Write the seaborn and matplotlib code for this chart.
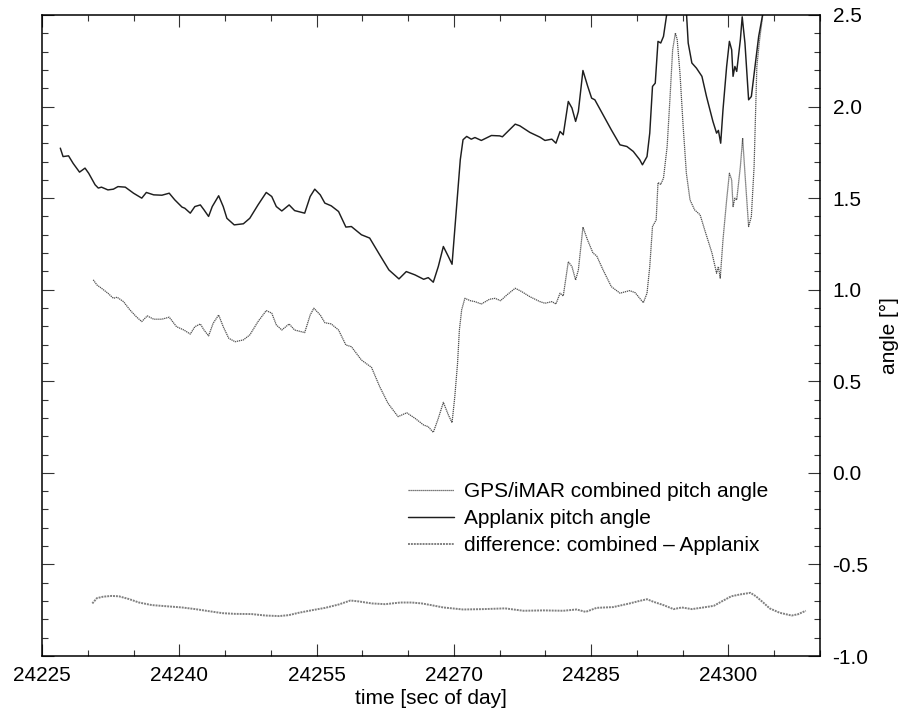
import numpy as np
import pandas as pd
import matplotlib
matplotlib.use("Agg")
import matplotlib.pyplot as plt
from matplotlib.ticker import MultipleLocator, FormatStrFormatter
import seaborn as sns

# ---------------- data ----------------
app_time = [24227.0, 24227.3, 24227.9, 24228.4, 24229.1, 24229.7, 24230.1, 24230.8, 24231.15, 24231.5,
            24232.2, 24232.8, 24233.3, 24234.1, 24235.0, 24235.9, 24236.4, 24237.2, 24238.1, 24238.9,
            24239.5, 24240.3, 24240.6, 24241.2, 24241.7, 24242.3, 24242.7, 24243.2, 24243.6, 24244.3,
            24244.8, 24245.2, 24246.0, 24247.0, 24247.7, 24248.6, 24249.5, 24250.1, 24250.6, 24251.2,
            24252.0, 24252.6, 24253.7, 24254.3, 24254.8, 24255.4, 24255.9, 24256.6, 24257.4, 24258.2,
            24258.8, 24259.9, 24260.8, 24261.9, 24262.9, 24264.0, 24264.8, 24265.75, 24266.7, 24267.2,
            24267.75, 24268.3, 24268.85, 24269.4, 24269.8, 24270.1, 24270.7, 24271.0, 24271.4, 24271.9,
            24272.3, 24273.0, 24274.1, 24275.0, 24275.3, 24276.7, 24277.2, 24278.3, 24279.4, 24279.95,
            24280.7, 24281.15, 24281.6, 24281.95, 24282.5, 24282.9, 24283.3, 24283.6, 24284.1, 24284.6,
            24285.05, 24285.4, 24286.3, 24287.2, 24288.15, 24288.9, 24289.6, 24290.3, 24290.6, 24291.1,
            24291.4, 24291.7, 24292.0, 24292.3, 24292.6, 24292.9, 24293.3, 24294.2, 24295.4, 24295.6,
            24296.0, 24296.5, 24297.1, 24297.6, 24298.3, 24298.7, 24298.9, 24299.15, 24299.4, 24299.8,
            24300.1, 24300.35, 24300.5, 24300.7, 24300.9, 24301.3, 24301.5, 24301.8, 24302.2, 24302.5,
            24302.9, 24303.3, 24303.8, 24305.0, 24308.5]
app_pitch = [1.773, 1.727, 1.731, 1.690, 1.642, 1.664, 1.636, 1.573, 1.555, 1.560,
             1.545, 1.549, 1.563, 1.560, 1.527, 1.500, 1.531, 1.518, 1.516, 1.527,
             1.491, 1.451, 1.445, 1.418, 1.454, 1.463, 1.436, 1.400, 1.454, 1.513,
             1.454, 1.390, 1.354, 1.360, 1.390, 1.463, 1.531, 1.509, 1.454, 1.430,
             1.463, 1.432, 1.418, 1.509, 1.549, 1.518, 1.473, 1.458, 1.427, 1.342,
             1.345, 1.300, 1.282, 1.190, 1.108, 1.059, 1.099, 1.081, 1.057, 1.066,
             1.041, 1.127, 1.236, 1.181, 1.139, 1.327, 1.710, 1.819, 1.837, 1.822,
             1.831, 1.815, 1.842, 1.840, 1.835, 1.904, 1.895, 1.859, 1.833, 1.815,
             1.822, 1.800, 1.864, 1.846, 2.028, 1.992, 1.919, 1.973, 2.197, 2.114,
             2.046, 2.037, 1.955, 1.873, 1.791, 1.782, 1.755, 1.710, 1.682, 1.727,
             1.855, 2.110, 2.128, 2.356, 2.347, 2.383, 2.520, 3.150, 2.520, 2.347,
             2.238, 2.210, 2.165, 2.055, 1.919, 1.855, 1.870, 1.800, 1.982, 2.219,
             2.356, 2.310, 2.165, 2.219, 2.192, 2.365, 2.490, 2.347, 2.037, 2.055,
             2.219, 2.383, 2.520, 2.900, 3.400]

comb_time = [24230.6, 24231.0, 24231.5, 24232.2, 24232.8, 24233.2, 24233.9, 24234.6, 24235.35, 24235.9,
             24236.5, 24237.2, 24238.1, 24238.9, 24239.7, 24240.5, 24241.2, 24241.7, 24242.3, 24242.7,
             24243.2, 24243.7, 24244.3, 24244.8, 24245.4, 24246.1, 24247.0, 24247.7, 24248.6, 24249.5,
             24250.1, 24250.6, 24251.2, 24252.0, 24252.6, 24253.7, 24254.3, 24254.7, 24255.4, 24255.9,
             24256.6, 24257.4, 24258.2, 24258.8, 24259.9, 24261.0, 24261.9, 24262.8, 24263.9, 24264.85,
             24265.75, 24266.7, 24267.2, 24267.75, 24268.3, 24268.85, 24269.4, 24269.8, 24270.1, 24270.4,
             24270.6, 24270.85, 24271.2, 24271.8, 24272.3, 24273.0, 24273.9, 24274.5, 24275.1, 24275.8,
             24276.7, 24277.4, 24278.3, 24279.4, 24279.95, 24280.7, 24281.15, 24281.6, 24281.95, 24282.5,
             24282.9, 24283.3, 24283.6, 24284.1, 24284.6, 24285.2, 24285.6, 24286.3, 24287.2, 24288.15,
             24289.2, 24289.8, 24290.3, 24290.7, 24291.1, 24291.4, 24291.7, 24292.1, 24292.3, 24292.6,
             24292.9, 24293.3, 24293.6, 24293.9, 24294.2, 24294.4, 24294.7, 24295.05, 24295.4, 24295.8,
             24296.3, 24296.9, 24297.4, 24298.2, 24298.7, 24298.9, 24299.1, 24299.4, 24299.8, 24300.1,
             24300.35, 24300.5, 24300.7, 24300.9, 24301.3, 24301.55, 24301.8, 24302.2, 24302.5, 24302.8,
             24303.1, 24303.4, 24303.8, 24308.5]
comb_pitch = [1.054, 1.026, 1.008, 0.981, 0.953, 0.959, 0.935, 0.890, 0.850, 0.826,
              0.857, 0.839, 0.839, 0.850, 0.798, 0.780, 0.758, 0.798, 0.813, 0.780,
              0.748, 0.817, 0.862, 0.798, 0.735, 0.716, 0.726, 0.753, 0.826, 0.886,
              0.872, 0.808, 0.780, 0.813, 0.780, 0.766, 0.862, 0.899, 0.862, 0.820,
              0.813, 0.780, 0.698, 0.689, 0.616, 0.576, 0.470, 0.380, 0.307, 0.328,
              0.298, 0.261, 0.252, 0.221, 0.298, 0.385, 0.316, 0.274, 0.416, 0.598,
              0.780, 0.890, 0.953, 0.940, 0.935, 0.922, 0.948, 0.953, 0.940, 0.972,
              1.008, 0.990, 0.962, 0.935, 0.926, 0.935, 0.922, 0.981, 0.966, 1.153,
              1.126, 1.053, 1.108, 1.342, 1.272, 1.200, 1.185, 1.108, 1.017, 0.981,
              0.995, 0.984, 0.953, 0.929, 0.981, 1.126, 1.345, 1.381, 1.585, 1.575,
              1.609, 1.782, 2.037, 2.310, 2.402, 2.365, 2.183, 1.891, 1.636, 1.490,
              1.436, 1.409, 1.327, 1.200, 1.090, 1.126, 1.063, 1.272, 1.490, 1.636,
              1.600, 1.454, 1.500, 1.490, 1.673, 1.828, 1.636, 1.345, 1.400, 1.673,
              2.219, 2.365, 2.520, 3.000]

diff_time = [24230.5, 24231.0, 24231.7, 24232.6, 24233.4, 24234.5, 24235.6, 24237.0, 24238.5, 24240.3,
             24241.75, 24243.2, 24244.7, 24246.1, 24247.9, 24249.4, 24250.9, 24251.95, 24253.05, 24254.5,
             24255.95, 24257.4, 24258.7, 24259.6, 24261.05, 24262.5, 24264.15, 24265.4, 24266.5, 24267.5,
             24268.85, 24271.0, 24273.2, 24275.6, 24277.6, 24279.8, 24281.95, 24283.4, 24284.4, 24285.6,
             24287.4, 24289.2, 24290.3, 24291.1, 24291.8, 24292.9, 24294.0, 24294.9, 24296.0, 24297.25,
             24298.4, 24299.3, 24300.3, 24301.25, 24302.4, 24303.0, 24303.8, 24304.5, 24305.6, 24306.9,
             24307.6, 24308.45]
diff_value = [-0.713, -0.684, -0.676, -0.672, -0.674, -0.689, -0.708, -0.722, -0.728, -0.735,
              -0.744, -0.755, -0.766, -0.770, -0.771, -0.779, -0.782, -0.777, -0.764, -0.750,
              -0.737, -0.719, -0.697, -0.702, -0.713, -0.717, -0.708, -0.708, -0.713, -0.722,
              -0.735, -0.746, -0.744, -0.740, -0.753, -0.751, -0.753, -0.746, -0.759, -0.737,
              -0.733, -0.713, -0.699, -0.690, -0.704, -0.722, -0.744, -0.735, -0.744, -0.735,
              -0.726, -0.701, -0.674, -0.664, -0.655, -0.674, -0.708, -0.740, -0.764, -0.779,
              -0.772, -0.753]

series_labels = ["GPS/iMAR combined pitch angle", "Applanix pitch angle",
                 "difference: combined \u2013 Applanix"]
x_ticks = [24225, 24240, 24255, 24270, 24285, 24300]
y_ticks = [-1.0, -0.5, 0.0, 0.5, 1.0, 1.5, 2.0, 2.5]
x_label = "time [sec of day]"
y_label = "angle [\u00b0]"

# ---------------- style ----------------
sns.set_theme(style="ticks")
plt.rcParams["font.family"] = ["Liberation Sans", "DejaVu Sans"]
plt.rcParams["axes.unicode_minus"] = False
plt.rcParams["text.color"] = "black"
plt.rcParams["axes.labelcolor"] = "black"

fig = plt.figure(figsize=(9.01, 7.17), dpi=100)
W, H = 901, 717
ax = fig.add_axes([42 / W, 1 - 656 / H, 778 / W, 641 / H])

df_comb = pd.DataFrame({"t": comb_time, "v": comb_pitch})
df_app = pd.DataFrame({"t": app_time, "v": app_pitch})
df_diff = pd.DataFrame({"t": diff_time, "v": diff_value})

sns.lineplot(data=df_comb, x="t", y="v", ax=ax, estimator=None, sort=False,
             color="#505050", linewidth=0.9, linestyle=(0, (1, 0.6)), label=series_labels[0])
sns.lineplot(data=df_app, x="t", y="v", ax=ax, estimator=None, sort=False,
             color="#1e1e1e", linewidth=1.05, linestyle="-", label=series_labels[1])
sns.lineplot(data=df_diff, x="t", y="v", ax=ax, estimator=None, sort=False,
             color="#808080", linewidth=1.4, linestyle=(0, (1, 0.5)), label=series_labels[2])

ax.set_xlim(24225, 24310)
ax.set_ylim(-1.0, 2.5)
ax.set_xticks(x_ticks)
ax.set_yticks(y_ticks)
ax.xaxis.set_minor_locator(MultipleLocator(5))
ax.yaxis.set_minor_locator(MultipleLocator(0.1))
ax.yaxis.set_major_formatter(FormatStrFormatter("%.1f"))

ax.yaxis.tick_right()
ax.yaxis.set_label_position("right")
ax.tick_params(axis="both", which="both", direction="in", top=True, bottom=True,
               left=True, right=True, labelleft=False, labelright=True,
               labelbottom=True, labeltop=False, colors="#333333", labelcolor="black",
               labelsize=15)
ax.tick_params(axis="both", which="major", length=8.5, width=0.8)
ax.tick_params(axis="both", which="minor", length=4.3, width=0.8)
ax.tick_params(axis="y", which="major", pad=9)
ax.tick_params(axis="x", which="major", pad=7)

for sp in ax.spines.values():
    sp.set_visible(True)
    sp.set_color("black")
    sp.set_linewidth(1.1)

ax.set_xlabel(x_label, fontsize=15, labelpad=3, color="black")
ax.set_ylabel(y_label, fontsize=15, labelpad=8, color="black")

leg = ax.legend(loc="upper left", bbox_to_anchor=((408 - 42) / 778, (656 - 482) / 641),
                frameon=False, fontsize=15, handlelength=2.2, handletextpad=0.5,
                labelspacing=0.38, borderpad=0, borderaxespad=0)
for txt in leg.get_texts():
    txt.set_color("black")

fig.savefig("out.png", dpi=100)
